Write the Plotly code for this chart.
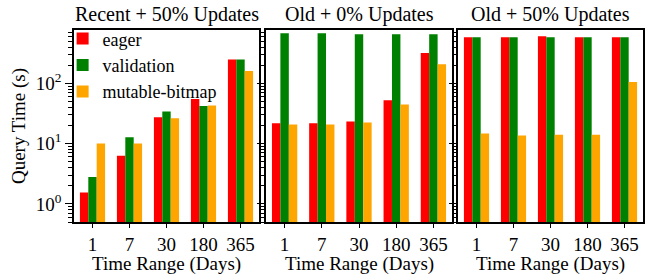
import plotly.graph_objects as go

categories = ["1", "7", "30", "180", "365"]
series_names = ["eager", "validation", "mutable-bitmap"]
series_colors = ["#ff0000", "#008000", "#ffa500"]
panel_titles = ["Recent + 50% Updates", "Old + 0% Updates", "Old + 50% Updates"]
x_title = "Time Range (Days)"
y_title = "Query Time (s)"

recent50_eager = [1.55, 6.3, 27.5, 55, 250]
recent50_validation = [2.8, 12.7, 34, 42, 250]
recent50_mutable = [10, 10, 26.4, 43, 160]

old0_eager = [21.8, 21.8, 23.3, 52.6, 320]
old0_validation = [680, 680, 655, 655, 655]
old0_mutable = [20.7, 20.7, 22.4, 44.7, 207]

old50_eager = [584, 584, 607, 584, 584]
old50_validation = [584, 584, 584, 584, 584]
old50_mutable = [14.7, 13.6, 14.1, 14.1, 105]

panels = [
    [recent50_eager, recent50_validation, recent50_mutable],
    [old0_eager, old0_validation, old0_mutable],
    [old50_eager, old50_validation, old50_mutable],
]

W, H = 656, 275
ML, MR, MT, MB = 74, 13, 30, 53
pw = W - ML - MR
domains = [[0, 185 / pw], [192 / pw, 378 / pw], [384 / pw, 1.0]]

FONT = "Liberation Serif"
fig = go.Figure()

for p, vals in enumerate(panels):
    xa = "x" if p == 0 else f"x{p+1}"
    ya = "y" if p == 0 else f"y{p+1}"
    for s, name in enumerate(series_names):
        fig.add_trace(go.Bar(
            x=categories, y=vals[s], name=name,
            marker=dict(color=series_colors[s], line=dict(width=0)),
            xaxis=xa, yaxis=ya, showlegend=(p == 0), legendgroup=name,
        ))

minor_vals = [v * m for v in (0.1, 1, 10, 100) for m in range(2, 10)]
minor_vals = [v for v in minor_vals if 0.5 <= v <= 770]

axis_common = dict(showline=True, linecolor="black", linewidth=1.5, mirror=True,
                   ticks="outside", tickcolor="black", showgrid=False, zeroline=False,
                   automargin=False)

layout = dict(
    width=W, height=H, margin=dict(l=ML, r=MR, t=MT, b=MB, autoexpand=False),
    paper_bgcolor="white", plot_bgcolor="white",
    font=dict(family=FONT, size=19, color="black"),
    barmode="group", bargap=0.32, bargroupgap=0,
    legend=dict(x=-0.02, y=1.05, xanchor="left", yanchor="top",
                bgcolor="rgba(0,0,0,0)", font=dict(family=FONT, size=18),
                tracegroupgap=0, itemwidth=30),
    showlegend=True,
)

for p in range(3):
    xk = "xaxis" if p == 0 else f"xaxis{p+1}"
    yk = "yaxis" if p == 0 else f"yaxis{p+1}"
    xa_anchor = "y" if p == 0 else f"y{p+1}"
    ya_anchor = "x" if p == 0 else f"x{p+1}"
    layout[xk] = dict(axis_common, domain=domains[p], anchor=xa_anchor,
                      ticklen=4, tickwidth=1,
                      tickfont=dict(family=FONT, size=19))
    layout[yk] = dict(axis_common, type="log", anchor=ya_anchor,
                      range=[-0.301, 2.886], domain=[0, 1],
                      tickmode="array", tickvals=[1, 10, 100],
                      ticktext=["10<sup>0</sup>", "10<sup>1</sup>", "10<sup>2</sup>"],
                      ticklen=7, tickwidth=1,
                      showticklabels=(p == 0),
                      tickfont=dict(family=FONT, size=19),
                      minor=dict(tickmode="array", tickvals=minor_vals, ticks="outside",
                                 ticklen=4, tickwidth=1, tickcolor="black", showgrid=False))
    if p == 0:
        layout[yk]["title"] = dict(text=y_title, font=dict(family=FONT, size=19), standoff=5)
    else:
        layout[yk]["matches"] = "y"

fig.update_layout(**layout)

for p in range(3):
    cx = (domains[p][0] + domains[p][1]) / 2
    fig.add_annotation(text=panel_titles[p], x=cx,
                       xref="paper", yref="paper", y=1.0, xanchor="center", yanchor="middle",
                       showarrow=False, font=dict(family=FONT, size=20), yshift=16)
    fig.add_annotation(text=x_title, x=cx,
                       xref="paper", yref="paper", y=0.0, xanchor="center", yanchor="middle",
                       showarrow=False, font=dict(family=FONT, size=19), yshift=-42)

fig.write_html("out.html", config={"displayModeBar": False},
               post_script="document.body.style.margin='0';document.body.style.padding='0';")
